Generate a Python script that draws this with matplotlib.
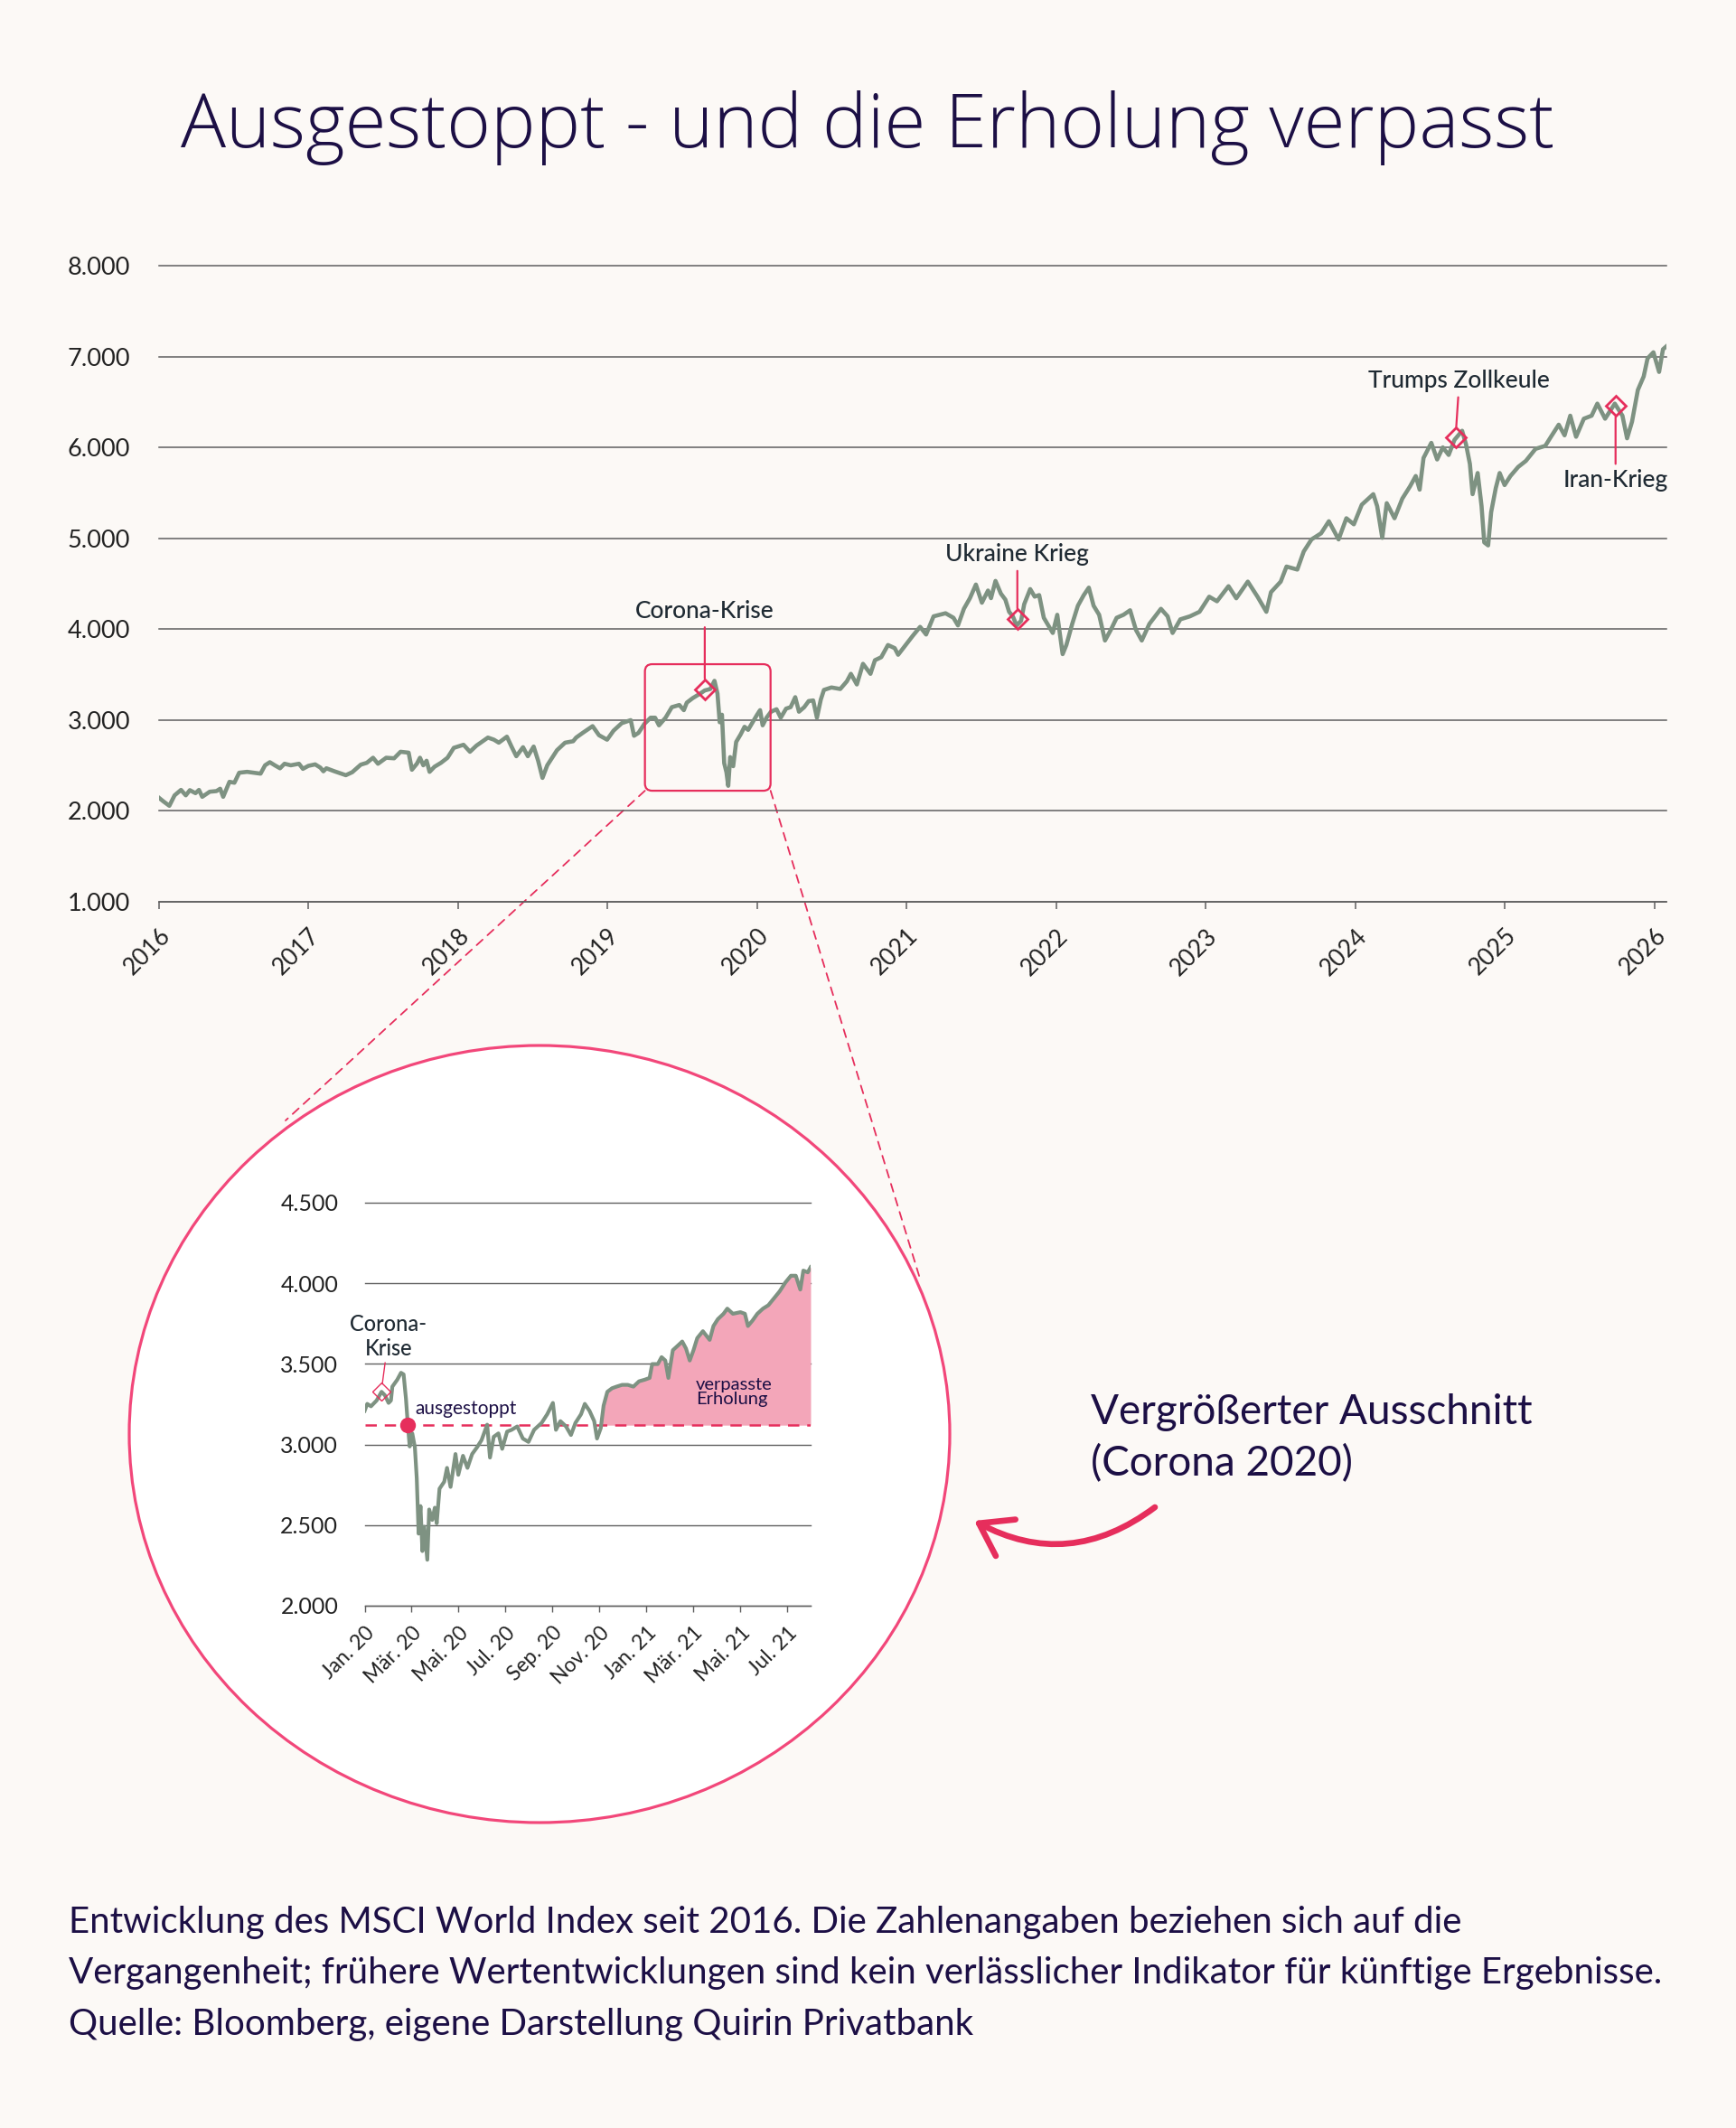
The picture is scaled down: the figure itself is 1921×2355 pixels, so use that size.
import matplotlib
matplotlib.use("Agg")
import matplotlib.pyplot as plt
import numpy as np
from matplotlib.patches import Ellipse, FancyBboxPatch, FancyArrowPatch, ConnectionPatch

W, H = 1921, 2355

BG = "#fcf9f6"
NAVY = "#1c0f45"
INK = "#1f2a33"
PINK = "#e62e5c"
RING = "#f2477a"
ROSE = "#f3a6b9"
LINE = "#7e9282"
GRID = "#5f5f5f"

plt.rcParams["font.family"] = ["Lato", "DejaVu Sans"]

TITLE = "Ausgestoppt - und die Erholung verpasst"
FOOTER_LINES = [
    "Entwicklung des MSCI World Index seit 2016. Die Zahlenangaben beziehen sich auf die",
    "Vergangenheit; frühere Wertentwicklungen sind kein verlässlicher Indikator für künftige Ergebnisse.",
    "Quelle: Bloomberg, eigene Darstellung Quirin Privatbank",
]
ZOOM_CAPTION = ["Vergrößerter Ausschnitt", "(Corona 2020)"]

# main chart: position on the year axis / index level
MAIN_T = [
    2016.0, 2016.03, 2016.07, 2016.105, 2016.148, 2016.18, 2016.207, 2016.245,
    2016.268, 2016.29, 2016.34, 2016.385, 2016.41, 2016.43, 2016.472, 2016.505,
    2016.537, 2016.59, 2016.68, 2016.71, 2016.742, 2016.775, 2016.81, 2016.84,
    2016.882, 2016.937, 2016.963, 2017.0, 2017.045, 2017.08, 2017.1, 2017.12,
    2017.174, 2017.25, 2017.293, 2017.35, 2017.39, 2017.432, 2017.465, 2017.52,
    2017.573, 2017.616, 2017.67, 2017.692, 2017.725, 2017.746, 2017.768, 2017.79,
    2017.81, 2017.843, 2017.886, 2017.93, 2017.972, 2018.037, 2018.08, 2018.123,
    2018.2, 2018.24, 2018.273, 2018.327, 2018.36, 2018.39, 2018.435, 2018.467,
    2018.506, 2018.536, 2018.565, 2018.597, 2018.662, 2018.716, 2018.77, 2018.79,
    2018.835, 2018.9, 2018.943, 2018.997, 2019.04, 2019.095, 2019.155, 2019.177,
    2019.207, 2019.247, 2019.288, 2019.318, 2019.344, 2019.388, 2019.43, 2019.48,
    2019.51, 2019.53, 2019.57, 2019.614, 2019.65, 2019.687, 2019.715, 2019.735,
    2019.75, 2019.765, 2019.78, 2019.795, 2019.807, 2019.82, 2019.84, 2019.86,
    2019.89, 2019.916, 2019.94, 2019.97, 2020.0, 2020.02, 2020.037, 2020.063,
    2020.093, 2020.13, 2020.158, 2020.194, 2020.224, 2020.255, 2020.28, 2020.315,
    2020.345, 2020.375, 2020.4, 2020.426, 2020.447, 2020.497, 2020.556, 2020.6,
    2020.627, 2020.667, 2020.708, 2020.758, 2020.788, 2020.83, 2020.875, 2020.92,
    2020.943, 2020.99, 2021.04, 2021.09, 2021.13, 2021.18, 2021.26, 2021.313,
    2021.343, 2021.383, 2021.423, 2021.463, 2021.503, 2021.544, 2021.564, 2021.594,
    2021.63, 2021.66, 2021.685, 2021.71, 2021.735, 2021.765, 2021.786, 2021.826,
    2021.856, 2021.886, 2021.917, 2021.947, 2021.977, 2022.007, 2022.043, 2022.068,
    2022.107, 2022.145, 2022.184, 2022.218, 2022.25, 2022.287, 2022.326, 2022.365,
    2022.404, 2022.45, 2022.494, 2022.533, 2022.572, 2022.623, 2022.70, 2022.745,
    2022.778, 2022.83, 2022.894, 2022.958, 2023.023, 2023.075, 2023.152, 2023.204,
    2023.281, 2023.346, 2023.405, 2023.436, 2023.501, 2023.54, 2023.612, 2023.655,
    2023.707, 2023.771, 2023.823, 2023.888, 2023.94, 2023.99, 2024.043, 2024.12,
    2024.146, 2024.18, 2024.21, 2024.262, 2024.314, 2024.365, 2024.404, 2024.43,
    2024.456, 2024.508, 2024.547, 2024.585, 2024.624, 2024.663, 2024.714, 2024.74,
    2024.766, 2024.784, 2024.818, 2024.844, 2024.862, 2024.888, 2024.908, 2024.939,
    2024.965, 2024.998, 2025.037, 2025.089, 2025.14, 2025.205, 2025.27, 2025.308,
    2025.36, 2025.399, 2025.437, 2025.476, 2025.528, 2025.58, 2025.618, 2025.67,
    2025.735, 2025.786, 2025.817, 2025.85, 2025.889, 2025.928, 2025.954, 2025.993,
    2026.031, 2026.057, 2026.08,
]
MAIN_V = [
    2146, 2106, 2057, 2172, 2232, 2172, 2229, 2196,
    2232, 2156, 2212, 2219, 2245, 2156, 2321, 2311,
    2421, 2431, 2411, 2503, 2537, 2503, 2470, 2520,
    2503, 2520, 2464, 2497, 2513, 2477, 2437, 2470,
    2437, 2394, 2427, 2510, 2530, 2586, 2520, 2586,
    2580, 2652, 2642, 2454, 2520, 2586, 2503, 2553,
    2431, 2487, 2530, 2586, 2695, 2729, 2652, 2719,
    2808, 2785, 2752, 2818, 2702, 2603, 2702, 2603,
    2709, 2553, 2364, 2503, 2669, 2752, 2768, 2808,
    2861, 2934, 2834, 2785, 2884, 2967, 3000, 2828,
    2860, 2960, 3027, 3027, 2943, 3027, 3143, 3167,
    3110, 3193, 3243, 3287, 3327, 3343, 3433, 3293,
    2977, 3060, 2527, 2427, 2277, 2593, 2493, 2760,
    2843, 2927, 2893, 2977, 3060, 3110, 2943, 3027,
    3093, 3120, 3027, 3127, 3143, 3253, 3093, 3143,
    3210, 3217, 3027, 3227, 3333, 3360, 3343, 3427,
    3510, 3393, 3620, 3510, 3660, 3693, 3827, 3793,
    3720, 3820, 3927, 4027, 3943, 4143, 4177, 4127,
    4043, 4227, 4343, 4493, 4293, 4427, 4343, 4533,
    4393, 4327, 4193, 4143, 4043, 4093, 4277, 4443,
    4360, 4377, 4127, 4043, 3960, 4160, 3727, 3828,
    4060, 4260, 4376, 4459, 4260, 4160, 3877, 3994,
    4127, 4160, 4210, 3994, 3877, 4060, 4226, 4143,
    3960, 4110, 4143, 4193, 4359, 4309, 4475, 4342,
    4525, 4359, 4193, 4409, 4525, 4691, 4658, 4857,
    4990, 5057, 5190, 4990, 5223, 5156, 5372, 5488,
    5356, 5007, 5389, 5223, 5439, 5572, 5688, 5538,
    5887, 6053, 5870, 6003, 5920, 6086, 6186, 6037,
    5821, 5488, 5721, 5356, 4957, 4924, 5289, 5555,
    5721, 5588, 5688, 5788, 5854, 5987, 6020, 6120,
    6253, 6136, 6352, 6120, 6319, 6352, 6485, 6319,
    6485, 6352, 6103, 6286, 6635, 6784, 6983, 7050,
    6834, 7083, 7116,
]
YEAR_TICKS = list(range(2016, 2027))
MAIN_YTICKS = [1000, 2000, 3000, 4000, 5000, 6000, 7000, 8000]

EVENTS = ["Corona-Krise", "Ukraine Krieg", "Trumps Zollkeule", "Iran-Krieg"]
EVENT_T = [2019.65, 2021.74, 2024.67, 2025.74]
EVENT_V = [3340, 4113, 6113, 6457]
# label offset in points and vertical alignment
EVENT_LABEL = [(0, 57, "baseline"), (0, 46, "baseline"), (3, 39.6, "baseline"), (0, -50, "top")]

ZOOM_T = (2019.25, 2020.09)
ZOOM_V = (2223, 3616)

# zoomed chart: months since Jan 2020 / index level
ZM_T = [
    0.0, 0.11, 0.27, 0.51, 0.72, 0.86, 1.02, 1.12, 1.18, 1.39, 1.55, 1.66,
    1.76, 1.84, 1.92, 2.03, 2.14, 2.22, 2.3, 2.38, 2.46, 2.54, 2.67, 2.75,
    2.88, 2.99, 3.07, 3.19, 3.39, 3.51, 3.66, 3.87, 3.99, 4.19, 4.38, 4.58,
    4.79, 4.98, 5.22, 5.34, 5.5, 5.7, 5.86, 6.07, 6.26, 6.5, 6.74, 6.98,
    7.22, 7.54, 7.78, 8.02, 8.15, 8.34, 8.58, 8.79, 8.98, 9.22, 9.38, 9.58,
    9.78, 9.9, 10.06, 10.18, 10.34, 10.54, 10.73, 10.97, 11.21, 11.45, 11.69, 11.93,
    12.14, 12.25, 12.49, 12.65, 12.81, 12.94, 13.13, 13.37, 13.53, 13.69, 13.85, 14.01,
    14.17, 14.41, 14.7, 14.86, 15.05, 15.29, 15.45, 15.69, 16.01, 16.2, 16.33, 16.52,
    16.73, 16.97, 17.2, 17.44, 17.68, 17.92, 18.16, 18.37, 18.56, 18.69, 18.88, 19.0,
]
ZM_V = [
    3209, 3252, 3237, 3273, 3327, 3306, 3258, 3273, 3359, 3402, 3445, 3435,
    3284, 3123, 2988, 3069, 2983, 2790, 2447, 2618, 2339, 2490, 2285, 2597,
    2532, 2608, 2511, 2726, 2769, 2855, 2737, 2941, 2812, 2930, 2855, 2941,
    2983, 3027, 3123, 2919, 3048, 3069, 2973, 3080, 3091, 3112, 3037, 3016,
    3091, 3134, 3188, 3258, 3091, 3145, 3112, 3059, 3134, 3188, 3252, 3209,
    3145, 3037, 3102, 3241, 3327, 3349, 3359, 3370, 3370, 3359, 3392, 3402,
    3413, 3499, 3499, 3542, 3521, 3413, 3585, 3617, 3639, 3596, 3521, 3585,
    3660, 3703, 3649, 3735, 3778, 3811, 3843, 3811, 3821, 3811, 3735, 3768,
    3811, 3843, 3864, 3907, 3950, 4004, 4047, 4047, 3961, 4079, 4068, 4100,
]
ZM_TICKS = [0, 2, 4, 6, 8, 10, 12, 14, 16, 18]
ZM_TICKLABELS = ["Jan. 20", "Mär. 20", "Mai. 20", "Jul. 20", "Sep. 20",
                 "Nov. 20", "Jan. 21", "Mär. 21", "Mai. 21", "Jul. 21"]
ZM_YTICKS = [2000, 2500, 3000, 3500, 4000, 4500]
STOP_LEVEL = 3120
STOP_T = 1.84
CORONA_ZM_T = 0.71
CORONA_ZM_V = 3329
RECOVERY_FROM = 10.0

# layout in figure pixels (origin top left)
RING_CENTER = (597, 1587)
RING_SIZE = (908, 860)
CONNECT_LEFT = (316, 1240)
CONNECT_RIGHT = (1018, 1415)
ARROW_FROM = (1278, 1668)
ARROW_TO = (1078, 1683)


def thousands(v):
    return f"{v:,.0f}".replace(",", ".")


def frac(left, top, right, bottom):
    return [left / W, 1 - bottom / H, (right - left) / W, (bottom - top) / H]


fig = plt.figure(figsize=(W / 100, H / 100), dpi=100, facecolor=BG)

canvas = fig.add_axes([0, 0, 1, 1], zorder=0)
canvas.set_xlim(0, W)
canvas.set_ylim(H, 0)
canvas.axis("off")

canvas.text(W / 2, 163, TITLE, ha="center", va="baseline", fontsize=60,
            color=NAVY, fontweight="light", family=["Open Sans", "DejaVu Sans"])
for i, line in enumerate(FOOTER_LINES):
    canvas.text(76, 2139 + i * 56.5, line, ha="left", va="baseline",
                fontsize=29, color=NAVY)
for i, line in enumerate(ZOOM_CAPTION):
    canvas.text(1207, 1576 + i * 57, line, ha="left", va="baseline",
                fontsize=33, color=NAVY)

canvas.add_patch(Ellipse(RING_CENTER, RING_SIZE[0], RING_SIZE[1],
                         fc="white", ec=RING, lw=2.3, zorder=2))
canvas.add_patch(FancyArrowPatch(ARROW_FROM, ARROW_TO,
                                 connectionstyle="arc3,rad=-0.32",
                                 arrowstyle="->,head_length=1.1,head_width=0.75",
                                 mutation_scale=22, lw=4.8, color=PINK,
                                 shrinkA=0, shrinkB=0, zorder=3))

# ---- main chart ----
ax = fig.add_axes(frac(175.8, 294.4, 1844, 998), zorder=2)
ax.set_facecolor("none")
ax.plot(MAIN_T, MAIN_V, color=LINE, lw=3.3, solid_joinstyle="round", zorder=3)
ax.set_xlim(2016, 2026.08)
ax.set_ylim(1000, 8000)
ax.set_yticks(MAIN_YTICKS)
ax.set_yticklabels([thousands(v) for v in MAIN_YTICKS])
ax.set_xticks(YEAR_TICKS)
ax.set_xticklabels([str(y) for y in YEAR_TICKS], rotation=45, ha="right",
                   rotation_mode="anchor")
ax.yaxis.grid(True, color=GRID, lw=1.1)
for gl in ax.get_ygridlines():
    gl.set_clip_on(False)
ax.set_axisbelow(True)
for side in ("top", "right", "left"):
    ax.spines[side].set_visible(False)
ax.spines["bottom"].set_color(GRID)
ax.spines["bottom"].set_linewidth(1.1)
ax.tick_params(axis="y", length=0, pad=23, labelsize=19.5, labelcolor="#222222")
ax.tick_params(axis="x", length=6, width=1.1, color=GRID, pad=12,
               labelsize=19, labelcolor="#222222")

for name, t, v, (dx, dy, va) in zip(EVENTS, EVENT_T, EVENT_V, EVENT_LABEL):
    ax.plot(t, v, marker="D", ms=11.5, mfc="none", mec=PINK, mew=2, zorder=5)
    ax.annotate(name, xy=(t, v), xytext=(dx, dy), textcoords="offset points",
                ha="center", va=va, fontsize=19, color=INK, fontweight="medium",
                arrowprops=dict(arrowstyle="-", color=PINK, lw=1.6,
                                shrinkA=2, shrinkB=8.5))

# zoom box and connectors
to_px = canvas.transData.inverted()
x0, y_bot = to_px.transform(ax.transData.transform((ZOOM_T[0], ZOOM_V[0])))
x1, y_top = to_px.transform(ax.transData.transform((ZOOM_T[1], ZOOM_V[1])))
ax.add_patch(FancyBboxPatch((x0, y_top), x1 - x0, y_bot - y_top,
                            boxstyle="round,pad=0,rounding_size=8",
                            fill=False, ec=PINK, lw=1.6,
                            transform=canvas.transData, zorder=4))
for corner_t, end in ((ZOOM_T[0], CONNECT_LEFT), (ZOOM_T[1], CONNECT_RIGHT)):
    con = ConnectionPatch(xyA=(corner_t, ZOOM_V[0]), coordsA=ax.transData,
                          xyB=end, coordsB=canvas.transData,
                          color=PINK, lw=1.3, ls=(0, (5, 4)), zorder=1)
    canvas.add_artist(con)

# ---- zoomed chart ----
iax = fig.add_axes(frac(403.5, 1331, 897, 1777), zorder=3)
iax.set_facecolor("none")
zt = np.array(ZM_T)
zv = np.array(ZM_V)
iax.fill_between(zt, STOP_LEVEL, zv, where=(zt >= RECOVERY_FROM) & (zv >= STOP_LEVEL),
                 interpolate=True, color=ROSE, lw=0, zorder=2)
iax.axhline(STOP_LEVEL, color=PINK, lw=1.8, ls=(0, (5, 3.5)), zorder=3)
iax.plot(zt, zv, color=LINE, lw=3.0, solid_joinstyle="round", zorder=4)
iax.set_xlim(0, 19.0)
iax.set_ylim(2000, 4500)
iax.set_yticks(ZM_YTICKS)
iax.set_yticklabels([thousands(v) for v in ZM_YTICKS])
iax.set_xticks(ZM_TICKS)
iax.set_xticklabels(ZM_TICKLABELS, rotation=45, ha="right", rotation_mode="anchor")
iax.yaxis.grid(True, color=GRID, lw=1.0)
for gl in iax.get_ygridlines():
    gl.set_clip_on(False)
iax.set_axisbelow(True)
for side in ("top", "right", "left"):
    iax.spines[side].set_visible(False)
iax.spines["bottom"].set_color(GRID)
iax.spines["bottom"].set_linewidth(1.0)
iax.tick_params(axis="y", length=0, pad=21, labelsize=18, labelcolor="#222222")
iax.tick_params(axis="x", length=5, width=1.0, color=GRID, pad=9,
                labelsize=16.5, labelcolor="#222222")

iax.plot(CORONA_ZM_T, CORONA_ZM_V, marker="D", ms=10.5, mfc="none", mec=PINK,
         mew=1.0, zorder=5)
iax.annotate("Corona-\nKrise", xy=(CORONA_ZM_T, CORONA_ZM_V), xytext=(5.8, 26),
             textcoords="offset points", ha="center", va="bottom",
             multialignment="center", fontsize=17, color=INK, fontweight="medium",
             arrowprops=dict(arrowstyle="-", color=PINK, lw=1.0, shrinkA=1, shrinkB=6))
iax.plot(STOP_T, STOP_LEVEL, marker="o", ms=11.5, color=PINK, zorder=6)
iax.annotate("ausgestoppt", xy=(STOP_T, STOP_LEVEL), xytext=(5.8, 9),
             textcoords="offset points", ha="left", va="baseline",
             fontsize=15, color=NAVY)
iax.text(14.12, 3233, "verpasste\nErholung", ha="left", va="bottom",
         fontsize=14.5, color=NAVY, linespacing=0.95, zorder=6)

fig.savefig("out.png", dpi=100, facecolor=BG)
